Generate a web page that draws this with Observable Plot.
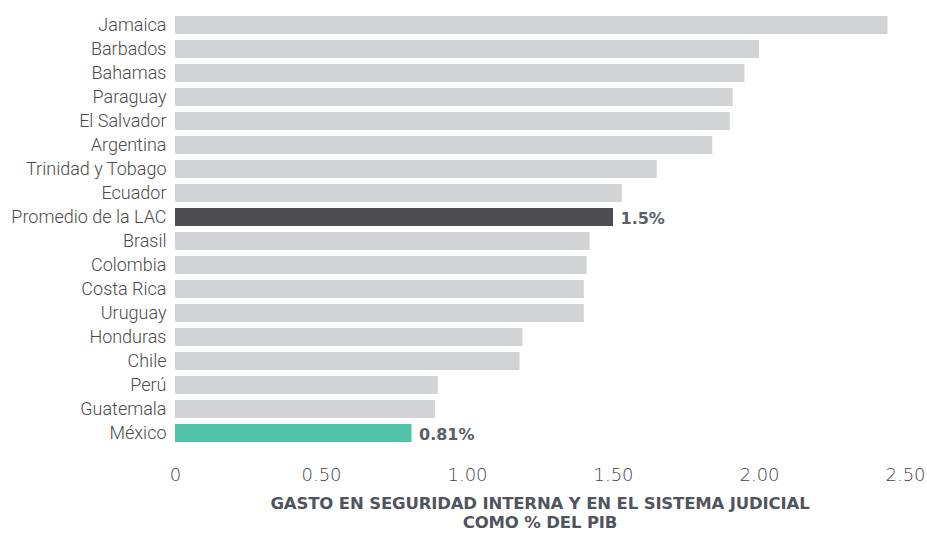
<!DOCTYPE html>
<html>
<head>
<meta charset="utf-8">
<script src="https://cdn.jsdelivr.net/npm/d3@7"></script>
<script src="https://cdn.jsdelivr.net/npm/@observablehq/plot@0.6"></script>
<style>
  html, body { margin: 0; padding: 0; background: #fff; width: 927px; height: 533px; overflow: hidden; }
  #chart { position: relative; }
  .title { position: absolute; left: 175px; width: 730px; text-align: center; font-family: "DejaVu Sans", sans-serif; font-weight: 700; font-size: 16.5px; color: #50555d; letter-spacing: -0.15px; line-height: 19px; top: 494px; }
</style>
</head>
<body>
<div id="chart"></div>
<div class="title">GASTO EN SEGURIDAD INTERNA Y EN EL SISTEMA JUDICIAL<br>COMO % DEL PIB</div>
<script>
const countries = ["Jamaica","Barbados","Bahamas","Paraguay","El Salvador","Argentina","Trinidad y Tobago","Ecuador","Promedio de la LAC","Brasil","Colombia","Costa Rica","Uruguay","Honduras","Chile","Perú","Guatemala","México"];
const values = [2.44,2.00,1.95,1.91,1.90,1.84,1.65,1.53,1.50,1.42,1.41,1.40,1.40,1.19,1.18,0.90,0.89,0.81];
const highlight = ["normal","normal","normal","normal","normal","normal","normal","normal","lac","normal","normal","normal","normal","normal","normal","normal","normal","mex"];
const valueLabels = ["","","","","","","","","1.5%","","","","","","","","","0.81%"];
const xTicks = [0, 0.5, 1, 1.5, 2, 2.5];

const data = countries.map((c, i) => ({country: c, value: values[i], kind: highlight[i], label: valueLabels[i]}));

const chart = Plot.plot({
  width: 927,
  height: 490,
  marginLeft: 175,
  marginRight: 22,
  marginTop: 13,
  marginBottom: 45,
  style: {fontFamily: "Roboto, sans-serif", background: "#fff"},
  x: {domain: [0, 2.5], axis: null},
  y: {domain: countries, paddingInner: 0.25, paddingOuter: 0.125, axis: null},
  color: {domain: ["normal","lac","mex"], range: ["#d1d3d5","#4d4d4f","#52c2a8"]},
  marks: [
    Plot.barX(data, {x: "value", y: "country", fill: "kind"}),
    Plot.axisY({tickSize: 0, tickPadding: 9, fontSize: 18, fontWeight: 300, label: null, color: "#4a4a4a"}),
    Plot.axisX({ticks: xTicks, tickSize: 0, tickPadding: 23, fontSize: 18, fontWeight: 200, fontFamily: "DejaVu Sans", label: null, color: "#444",
      tickFormat: d => d === 0 ? "0" : d.toFixed(2)}),
    Plot.text(data.filter(d => d.label), {x: "value", y: "country", text: "label", textAnchor: "start", dx: 7, dy: 1,
      fontWeight: 700, fontSize: 16, fontFamily: "DejaVu Sans", fill: "#5a5f67"})
  ]
});
document.getElementById("chart").appendChild(chart);
</script>
</body>
</html>
